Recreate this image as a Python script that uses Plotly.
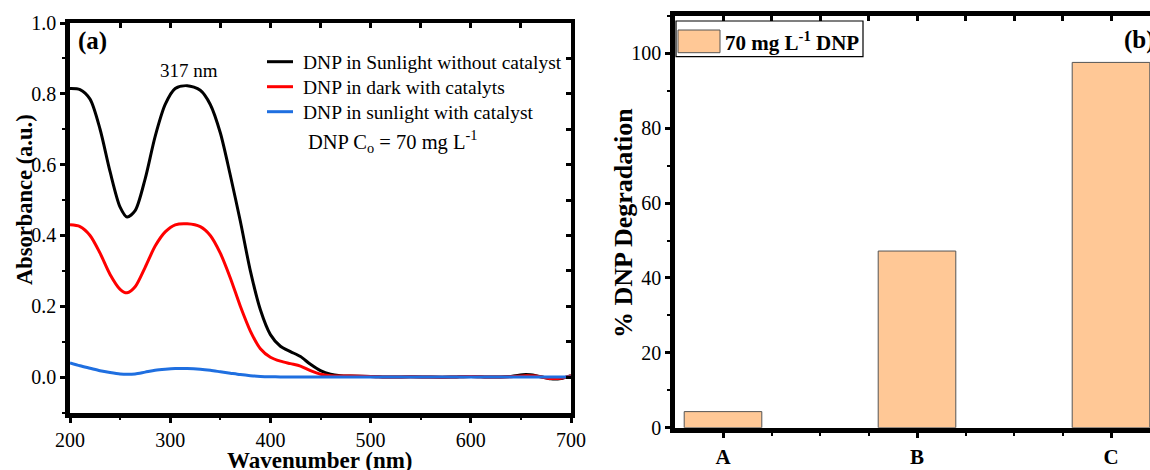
import plotly.graph_objects as go

W, H = 1150, 470
FONT = "Liberation Serif"

# ---------------- data: panel (a) ----------------
wl = [200, 210, 220, 230, 240, 250, 257, 265, 275, 285, 295, 305, 317, 330, 340, 350,
      360, 370, 380, 390, 400, 410, 420, 430, 440, 450, 460, 470, 480, 500, 520, 540,
      560, 580, 600, 620, 640, 655, 665, 680, 690, 700]
abs_sun_nocat = [0.815, 0.812, 0.785, 0.70, 0.58, 0.48, 0.452, 0.47, 0.56, 0.68, 0.77, 0.815,
                 0.823, 0.81, 0.77, 0.69, 0.57, 0.44, 0.30, 0.19, 0.12, 0.087, 0.072, 0.058,
                 0.036, 0.018, 0.008, 0.004, 0.003, 0.002, 0.0, 0.001, 0.0, 0.0, 0.002, 0.0,
                 0.002, 0.007, 0.004, -0.005, -0.004, 0.004]
abs_dark_cat = [0.43, 0.425, 0.40, 0.35, 0.29, 0.248, 0.238, 0.255, 0.31, 0.37, 0.41, 0.43,
                0.433, 0.425, 0.40, 0.35, 0.28, 0.20, 0.13, 0.08, 0.056, 0.045, 0.038, 0.031,
                0.018, 0.008, 0.004, 0.003, 0.003, 0.002, 0.0, 0.001, 0.0, 0.0, 0.002, 0.0,
                0.001, 0.004, 0.003, -0.004, -0.003, 0.003]
abs_sun_cat = [0.040, 0.032, 0.025, 0.018, 0.013, 0.009, 0.008, 0.009, 0.014, 0.019, 0.022,
               0.024, 0.024, 0.022, 0.019, 0.015, 0.011, 0.007, 0.004, 0.002, 0.001, 0.0005,
               0.0, 0.0, 0.0, 0.0, 0.0, 0.0, 0.0, 0.0, 0.0, 0.0, 0.0, 0.0, 0.0, 0.0, 0.0, 0.0,
               0.0, 0.0, 0.0, 0.0]
series_names = ["DNP in Sunlight without catalyst", "DNP in dark with catalyts",
                "DNP in sunlight with catalyst"]
series_colors = ["#000000", "#ff0000", "#1f6fe0"]

# ---------------- data: panel (b) ----------------
bar_cats = ["A", "B", "C"]
bar_pos = [0, 1, 2]
degradation = [4.3, 47.2, 97.6]
bar_color = "#ffc896"
bar_legend_name = "70 mg L<sup>-1</sup> DNP"

fig = go.Figure()

for ys, nm, col in zip([abs_sun_nocat, abs_dark_cat, abs_sun_cat], series_names, series_colors):
    fig.add_trace(go.Scatter(x=wl, y=ys, mode="lines", name=nm, showlegend=False,
                             line=dict(color=col, width=3, shape="spline", smoothing=0.8),
                             xaxis="x", yaxis="y"))

fig.add_trace(go.Bar(x=bar_pos, y=degradation, width=0.4, name=bar_legend_name,
                     marker=dict(color=bar_color, line=dict(color="#555555", width=1)),
                     xaxis="x2", yaxis="y2", showlegend=False))

# helper traces so the overlay (mirror) axes are drawn
fig.add_trace(go.Scatter(x=[None], y=[None], xaxis="x3", yaxis="y3", showlegend=False))
fig.add_trace(go.Scatter(x=[None], y=[None], xaxis="x4", yaxis="y4", showlegend=False))


def px(x):
    return x / W


def py(y):
    return 1 - y / H


ax_common = dict(showgrid=False, zeroline=False, showline=True, linecolor="black",
                 tickcolor="black", tickfont=dict(family=FONT, size=20, color="black"),
                 automargin=False)

xdomA = [px(70), px(571)]
ydomA = [py(412.5), py(23)]
xdomB = [px(675), 1.0]
ydomB = [py(427.7), py(16)]
# category A at x 723, 194 px per category; panel is cut by the right edge at x 1150
xrangeB = [(675 - 723) / 194, (1150 - 723) / 194]

fig.update_layout(
    width=W, height=H,
    margin=dict(l=0, r=0, t=0, b=0),
    paper_bgcolor="white", plot_bgcolor="white",
    font=dict(family=FONT, color="black"),
    showlegend=False,
    xaxis=dict(**ax_common, domain=xdomA, anchor="y", range=[200, 700],
               tickmode="linear", tick0=200, dtick=100, ticks="outside", ticklen=6,
               tickwidth=2.5, linewidth=4.5,
               minor=dict(ticks="outside", ticklen=3, tickwidth=2, dtick=50, tick0=200)),
    yaxis=dict(**ax_common, domain=ydomA, anchor="x", range=[-0.1, 1.0],
               tickmode="linear", tick0=0, dtick=0.2, tickformat=".1f", ticks="outside",
               ticklen=5, tickwidth=2.5, linewidth=4.5,
               minor=dict(ticks="outside", ticklen=3, tickwidth=2, dtick=0.1, tick0=0)),
    xaxis3=dict(showgrid=False, zeroline=False, showline=True, linecolor="black",
                linewidth=4, overlaying="x", side="top", anchor="y3", range=[200, 700],
                tickmode="linear", tick0=200, dtick=50, ticks="inside", ticklen=5,
                tickwidth=2.5, tickcolor="black", showticklabels=False),
    yaxis3=dict(showgrid=False, zeroline=False, showline=True, linecolor="black",
                linewidth=4, overlaying="y", side="right", anchor="x3", range=[-0.1, 1.0],
                tickmode="linear", tick0=0, dtick=0.1, ticks="inside", ticklen=5,
                tickwidth=2.5, tickcolor="black", showticklabels=False),
    xaxis2=dict(**ax_common, domain=xdomB, anchor="y2", range=xrangeB,
                tickmode="array", tickvals=bar_pos,
                ticktext=["<b>%s</b>" % c for c in bar_cats],
                ticks="outside", ticklen=6, tickwidth=2.5, linewidth=4.5,
                minor=dict(ticks="outside", ticklen=4, tickwidth=2, dtick=0.25, tick0=0)),
    yaxis2=dict(**ax_common, domain=ydomB, anchor="x2", range=[0, 110],
                tickmode="linear", tick0=0, dtick=20, ticks="outside", ticklen=5,
                tickwidth=2.5, linewidth=4.5,
                minor=dict(ticks="outside", ticklen=3, tickwidth=2, dtick=10, tick0=0)),
    xaxis4=dict(showgrid=False, zeroline=False, showline=True, linecolor="black",
                linewidth=4.5, overlaying="x2", side="top", anchor="y4", range=xrangeB,
                tickmode="linear", tick0=0, dtick=0.25, ticks="inside", ticklen=5,
                tickwidth=2.5, tickcolor="black", showticklabels=False),
    yaxis4=dict(showgrid=False, zeroline=False, showline=False, overlaying="y2",
                anchor="x4", range=[0, 110], showticklabels=False, ticks=""),
)

fig.update_layout(xaxis2_tickfont=dict(family=FONT, size=21, color="black"))

ann = []
shapes = []

# manual legend for panel (a)
leg_rows = [61.7, 86.7, 111.7]
for yrow, nm, col in zip(leg_rows, series_names, series_colors):
    shapes.append(dict(type="line", xref="paper", yref="paper",
                       x0=px(267), x1=px(293), y0=py(yrow), y1=py(yrow),
                       line=dict(color=col, width=3)))
    ann.append(dict(x=px(301), y=py(yrow + 0.5), xref="paper", yref="paper", text=nm,
                    showarrow=False, font=dict(family=FONT, size=19.5, color="black"),
                    xanchor="left", yanchor="middle"))

ann.append(dict(x=px(320), y=py(460), xref="paper", yref="paper",
                text="<b>Wavenumber (nm)</b>", showarrow=False,
                font=dict(family=FONT, size=23), xanchor="center", yanchor="middle"))
ann.append(dict(x=px(25), y=py(200), xref="paper", yref="paper",
                text="<b>Absorbance (a.u.)</b>", showarrow=False, textangle=-90,
                font=dict(family=FONT, size=22.5), xanchor="center", yanchor="middle"))
ann.append(dict(x=px(624), y=py(223), xref="paper", yref="paper",
                text="<b>% DNP Degradation</b>", showarrow=False, textangle=-90,
                font=dict(family=FONT, size=26), xanchor="center", yanchor="middle"))
ann.append(dict(x=px(76), y=py(41), xref="paper", yref="paper", text="<b>(a)</b>",
                showarrow=False, font=dict(family=FONT, size=25),
                xanchor="left", yanchor="middle"))
ann.append(dict(x=px(1122), y=py(40), xref="paper", yref="paper", text="<b>(b)</b>",
                showarrow=False, font=dict(family=FONT, size=25),
                xanchor="left", yanchor="middle"))
ann.append(dict(x=px(189), y=py(71), xref="paper", yref="paper", text="317 nm",
                showarrow=False, font=dict(family=FONT, size=19),
                xanchor="center", yanchor="middle"))
ann.append(dict(x=px(306), y=py(141), xref="paper", yref="paper",
                text="DNP C<sub>o</sub> = 70 mg L<sup>-1</sup>",
                showarrow=False, font=dict(family=FONT, size=20.5),
                xanchor="left", yanchor="middle"))
ann.append(dict(x=px(723), y=py(41.7), xref="paper", yref="paper",
                text="<b>" + bar_legend_name + "</b>",
                showarrow=False, font=dict(family=FONT, size=21),
                xanchor="left", yanchor="middle"))

shapes += [
    dict(type="rect", xref="paper", yref="paper", x0=px(676), x1=px(863), y0=py(56.7), y1=py(21),
         line=dict(color="black", width=1.2), fillcolor="white", layer="above"),
    dict(type="rect", xref="paper", yref="paper", x0=px(678), x1=px(720), y0=py(52.7), y1=py(30),
         line=dict(color="#555555", width=1), fillcolor=bar_color, layer="above"),
]
fig.update_layout(annotations=ann, shapes=shapes)

# remove the default 8px page margin so the 1150x470 figure fills the window exactly
fig.write_html("out.html", config={"displayModeBar": False},
               post_script="document.body.style.margin='0';document.body.style.overflow='hidden';")
